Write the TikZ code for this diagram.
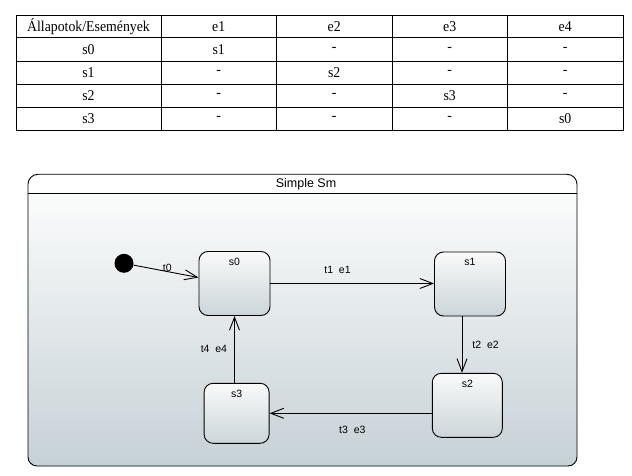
\documentclass[tikz,border=0pt]{standalone}
\usepackage{fontspec}
\setmainfont{Liberation Serif}
\setsansfont{Liberation Sans}
\newfontfamily\tabfont{Liberation Serif}[FakeStretch=0.92]
\usetikzlibrary{arrows.meta,calc}
\definecolor{smtop}{HTML}{FBFCFC}
\definecolor{smbot}{HTML}{C6D1D6}
\definecolor{sttop}{HTML}{F9FAFA}
\definecolor{stbot}{HTML}{CBD5D9}
\tikzset{
  cell/.style = {inner sep=0pt, font=\tabfont\fontsize{15}{16}\selectfont},
  lbl/.style = {inner sep=1pt, font=\sffamily\fontsize{10.5}{11}\selectfont},
  state/.style = {draw=black, line width=0.9pt, rounded corners=9pt, minimum width=71pt, minimum height=64pt,
    top color=sttop, bottom color=stbot, inner sep=0pt},
  sname/.style = {anchor=north, inner sep=0pt, yshift=-7pt, font=\sffamily\fontsize{10.5}{11}\selectfont},
  init/.style = {circle, fill=black, minimum size=19pt, inner sep=0pt},
  trans/.style = {line width=0.9pt, -{Straight Barb[length=13pt,width=10pt,line width=0.9pt]}}
}

\begin{document}
\begin{tikzpicture}[x=1pt,y=-1pt]
	\useasboundingbox (0,0) rectangle (632,476);
	% table
	\draw[line width=0.9pt] (16,15) rectangle (623,130);
	\foreach \y in {37.3,61,84.3,107.3}
		\draw[line width=0.9pt] (16,\y) -- (623,\y);
	\foreach \x in {161,276.5,392,507.5}
		\draw[line width=0.9pt] (\x,15) -- (\x,130);
	\foreach \row [count=\r from 0] in {{Állapotok/Események,e1,e2,e3,e4},{s0,s1,-,-,-},{s1,-,s2,-,-},{s2,-,-,s3,-},{s3,-,-,-,s0}}
		\foreach \cell [count=\c from 0] in \row {
			\pgfmathsetmacro\cx{\c==0 ? 88.5 : 103.25+115.5*\c}
			\node [cell] (c\r\c) at (\cx,26.5+23*\r) {\cell};
		}
	% state machine frame
	\fill[white, rounded corners=10pt] (28,174.3) rectangle (577,466);
	\shade[top color=smtop, bottom color=smbot] (28,193.3) -- (577,193.3)
		[rounded corners=9pt] -- (577,466) -- (28,466) [sharp corners] -- cycle;
	\draw[line width=0.9pt, rounded corners=10pt] (28,193.3) |- (577,174.3) -- (577,193.3);
	\draw[line width=0.9pt, rounded corners=9pt] (28,193.3) |- (577,466) -- (577,193.3);
	\draw[line width=0.9pt] (28,193.3) -- (577,193.3);
	\node [lbl, font=\sffamily\fontsize{12.5}{13}\selectfont] (title) at (306,184) {Simple Sm};
	% states
	\node [init] (start) at (124,263.3) {};
	\node [state, label={[sname]north:s0}] (s0) at (234.5,283.5) {};
	\node [state, label={[sname]north:s1}] (s1) at (470,284) {};
	\node [state, minimum width=70pt, label={[sname]north:s2}] (s2) at (467.3,405.3) {};
	\node [state, minimum width=65pt, minimum height=60pt, label={[sname]north:s3}] (s3) at (236.6,413.3) {};
	% transitions
	\draw [trans] (start) -- ([yshift=6pt]s0.west) node [lbl, pos=0.52, above=-1pt] (t0) {t0};
	\draw [trans] (s0.east) -- (s0.east -| s1.west) node [lbl, pos=0.41, above=8pt] (t1) {t1\ \ e1};
	\draw [trans] ([xshift=-8pt]s1.south) -- ([xshift=-8pt]s1.south |- s2.north) node [lbl, pos=0.5, right=9pt] (t2) {t2\ \ e2};
	\draw [trans] (s3.east -| s2.west) -- (s3.east) node [lbl, pos=0.49, below=11pt] (t3) {t3\ \ e3};
	\draw [trans] (s0.south |- s3.north) -- (s0.south) node [lbl, pos=0.5, left=6pt] (t4) {t4\ \ e4};
\end{tikzpicture}
\end{document}
